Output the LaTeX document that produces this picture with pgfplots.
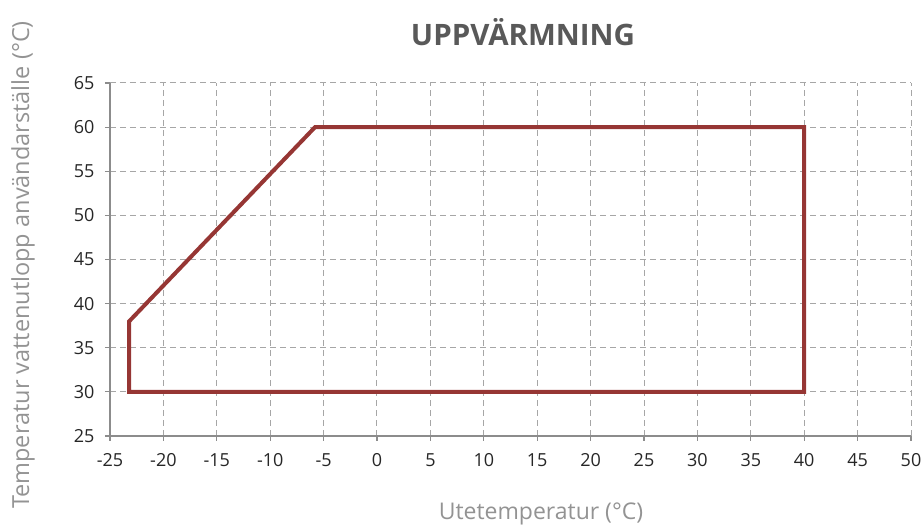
\documentclass[border=0pt]{standalone}
\usepackage{pgfplots}
\pgfplotsset{compat=1.18}
\usepackage{fontspec}
\setmainfont{Open Sans}
\definecolor{envred}{HTML}{963634}
\definecolor{gridgray}{HTML}{A6A6A6}
\definecolor{axgray}{HTML}{8C8C8C}
\definecolor{titlegray}{HTML}{595959}
\definecolor{labelgray}{HTML}{939393}
\begin{document}
\begin{tikzpicture}
\begin{axis}[
  at={(0,0)}, anchor=south west,
  scale only axis,
  width=801pt, height=353pt,
  xmin=-25, xmax=50, ymin=25, ymax=65,
  xtick distance=5, ytick distance=5,
  axis x line*=bottom, axis y line*=left,
  axis line style={axgray, line width=1.2pt, -},
  tick style={axgray, line width=1.2pt},
  tick align=outside, major tick length=5pt,
  grid=major,
  major grid style={gridgray, line width=1pt, dash pattern=on 6pt off 4pt},
  /pgf/number format/assume math mode=true,
  ticklabel style={font=\fontsize{18}{20}\selectfont, text=black!85},
  xticklabel style={yshift=-9pt},
  yticklabel style={xshift=-7pt},
  clip=false,
]
\addplot[envred, line width=4pt, line join=miter] coordinates {
  (-23.2,30) (-23.2,38) (-5.8,60) (40,60) (40,30) (-23.2,30)
} -- cycle;
% extra grid lines at the far edges
\draw[gridgray, line width=1pt, dash pattern=on 6pt off 4pt] (axis cs:50,25) -- (axis cs:50,65);
\draw[gridgray, line width=1pt, dash pattern=on 6pt off 4pt] (axis cs:-25,65) -- (axis cs:50,65);
\end{axis}
\node[font=\fontsize{29.5}{32}\selectfont\bfseries, text=titlegray] at (413pt,404pt) {UPPVÄRMNING};
\node[font=\fontsize{23}{26}\selectfont, text=labelgray] at (431pt,-78pt) {Utetemperatur (°C)};
\node[font=\fontsize{23.5}{26}\selectfont, text=labelgray, rotate=90] at (-87pt,171pt) {Temperatur vattenutlopp användarställe (°C)};
\pgfresetboundingbox
\useasboundingbox (-110pt,-90pt) rectangle (812pt,436pt);
\end{tikzpicture}
\end{document}
